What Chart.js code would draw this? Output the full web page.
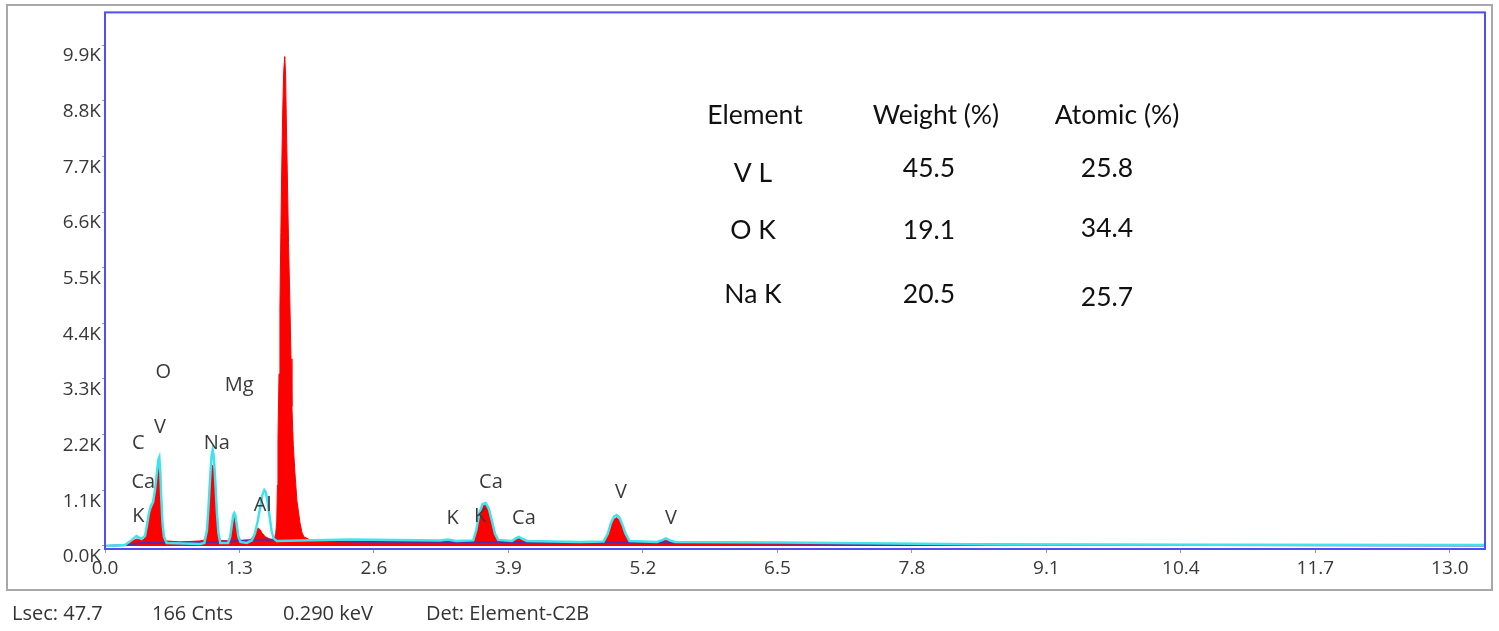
<!DOCTYPE html>
<html>
<head>
<meta charset="utf-8">
<script src="https://cdn.jsdelivr.net/npm/chart.js@4.4.1/dist/chart.umd.min.js"></script>
<style>
  html, body { margin: 0; padding: 0; background: #fff; }
  #wrap { width: 1499px; height: 631px; }
</style>
</head>
<body>
<div id="wrap"><canvas id="eds" width="1499" height="631"></canvas></div>
<script>
// axis ticks
const xTicks = [0, 1.3, 2.6, 3.9, 5.2, 6.5, 7.8, 9.1, 10.4, 11.7, 13.0];
const yTicks = [0, 1100, 2200, 3300, 4400, 5500, 6600, 7700, 8800, 9900];

// measured spectrum (red fill), energy in keV / counts
const redKeV = [0, 0.193, 0.261, 0.309, 0.367, 0.387, 0.406, 0.425, 0.445, 0.464, 0.483, 0.499, 0.515, 0.525,
  0.535, 0.545, 0.556, 0.570, 0.590, 0.725, 0.918, 0.960, 0.985, 1.000, 1.015, 1.030, 1.041, 1.052, 1.067, 1.082,
  1.097, 1.115, 1.190, 1.210, 1.225, 1.240, 1.250, 1.260, 1.275, 1.290, 1.310, 1.400, 1.430, 1.455, 1.482, 1.500,
  1.520, 1.550, 1.580, 1.610, 1.633, 1.650, 1.660, 1.667, 1.672, 1.682, 1.691, 1.700, 1.708, 1.718, 1.728, 1.738,
  1.746, 1.752, 1.762, 1.774, 1.788, 1.798, 1.807, 1.820, 1.836, 1.855, 1.885, 1.905, 1.923, 1.981, 2.368, 2.851,
  3.238, 3.315, 3.393, 3.560, 3.590, 3.620, 3.650, 3.680, 3.710, 3.740, 3.770, 3.800, 3.934, 3.970, 4.001, 4.035,
  4.078, 4.591, 4.820, 4.860, 4.890, 4.920, 4.946, 4.970, 5.000, 5.030, 5.070, 5.335, 5.390, 5.422, 5.460, 5.509,
  6.524, 8.651, 13.34];
const redCounts = [0, 20, 99, 138, 118, 158, 330, 600, 720, 790, 1000, 1350, 1636, 1560,
  1200, 800, 450, 200, 100, 79, 99, 120, 300, 650, 1100, 1500, 1600, 1480, 1050, 560,
  250, 110, 100, 200, 380, 540, 575, 540, 380, 200, 110, 118, 180, 290, 355, 320,
  250, 180, 150, 120, 110, 250, 456, 1200, 2100, 3400, 4737, 6200, 7393, 8600, 9400, 9672,
  9300, 8500, 7393, 6000, 4737, 3700, 2755, 2000, 1447, 900, 456, 260, 180, 120, 89, 89,
  79, 99, 79, 100, 300, 620, 790, 810, 700, 480, 220, 110, 79, 130, 158, 120,
  79, 59, 79, 200, 400, 530, 560, 520, 390, 220, 90, 59, 95, 118, 90, 59,
  49, 20, 10];

// overlay spectrum (cyan line)
const cyanKeV = [0, 0.193, 0.261, 0.305, 0.350, 0.387, 0.406, 0.425, 0.445, 0.464, 0.483, 0.499, 0.515, 0.525,
  0.535, 0.545, 0.556, 0.570, 0.596, 0.918, 0.960, 0.985, 1.000, 1.015, 1.030, 1.041, 1.052, 1.067, 1.082, 1.097,
  1.115, 1.190, 1.210, 1.225, 1.240, 1.250, 1.260, 1.275, 1.290, 1.310, 1.370, 1.420, 1.450, 1.475, 1.500, 1.520,
  1.540, 1.555, 1.570, 1.590, 1.610, 1.630, 1.660, 2.368, 3.238, 3.315, 3.393, 3.560, 3.590, 3.620, 3.650, 3.680,
  3.710, 3.740, 3.770, 3.800, 3.934, 3.970, 4.001, 4.035, 4.078, 4.591, 4.820, 4.860, 4.890, 4.920, 4.946, 4.970,
  5.000, 5.030, 5.070, 5.335, 5.390, 5.422, 5.460, 5.509, 6.524, 8.651, 13.34];
const cyanCounts = [0, 20, 120, 198, 140, 200, 420, 650, 800, 860, 1100, 1400, 1700, 1754,
  1450, 900, 450, 180, 59, 39, 60, 300, 750, 1300, 1780, 1900, 1760, 1250, 650, 250,
  60, 60, 180, 400, 610, 650, 610, 400, 180, 80, 59, 110, 250, 480, 760, 1000,
  1104, 1060, 900, 600, 300, 150, 100, 128, 108, 128, 99, 110, 320, 660, 830, 848,
  740, 500, 240, 120, 99, 150, 177, 140, 99, 79, 89, 240, 450, 580, 611, 570,
  430, 250, 100, 79, 120, 148, 110, 79, 69, 30, 20];

// background (purple line)
const bgKeV = [0, 0.2, 0.35, 1.0, 1.3, 1.55, 1.9, 2.5, 3.5, 4.5, 5.5, 7.0, 9.0, 13.34];
const bgCounts = [0, 20, 59, 75, 99, 130, 110, 85, 80, 75, 65, 45, 25, 10];

// peak identification labels: text, keV, counts
const peakText = ["O", "Mg", "V", "C", "Na", "Ca", "Al", "K", "K", "K", "Ca", "Ca", "V", "V"];
const peakKeV = [0.563, 1.298, 0.532, 0.322, 1.080, 0.370, 1.524, 0.322, 3.361, 3.625, 3.731, 4.050, 4.987, 5.470];
const peakCounts = [3435, 3173, 2340, 2024, 2024, 1267, 808, 578, 545, 578, 1267, 545, 1070, 545];

// quantification table
const tableHead = ["Element", "Weight (%)", "Atomic (%)"];
const tableElem = ["V L", "O K", "Na K"];
const tableWeight = ["45.5", "19.1", "20.5"];
const tableAtomic = ["25.8", "34.4", "25.7"];

// status line under the plot
const statusText = ["Lsec: 47.7", "166 Cnts", "0.290 keV", "Det: Element-C2B"];

const pts = (xs, ys) => xs.map((x, i) => ({ x: x, y: ys[i] }));

// frame, labels, table and status line
const decor = {
  id: "decor",
  afterDraw(chart) {
    const { ctx, chartArea: a, scales: { x, y } } = chart;
    ctx.save();

    // outer window frame
    ctx.strokeStyle = "#a8a8a8";
    ctx.lineWidth = 2;
    ctx.strokeRect(7, 5, 1485, 585);

    // blue plot border
    ctx.strokeStyle = "#4f4ff2";
    ctx.lineWidth = 2;
    ctx.strokeRect(a.left, a.top, a.right - a.left, a.bottom - a.top);

    // peak labels
    ctx.fillStyle = "#3a3a3a";
    ctx.font = "20px 'Open Sans'";
    ctx.textAlign = "center";
    ctx.textBaseline = "middle";
    peakText.forEach((t, i) => {
      ctx.fillText(t, x.getPixelForValue(peakKeV[i]), y.getPixelForValue(peakCounts[i]));
    });

    // table
    ctx.fillStyle = "#111";
    ctx.font = "26.5px Lato";
    const colX = [755, 936, 1117];
    const numX = [753, 929, 1107];
    tableHead.forEach((t, i) => ctx.fillText(t, colX[i], 115));
    const rowY = [170, 230, 294];
    tableElem.forEach((t, i) => {
      ctx.fillText(t, numX[0], rowY[i] + (i === 0 ? 3 : 0));
      ctx.fillText(tableWeight[i], numX[1], rowY[i] - (i === 0 ? 2 : 0));
      ctx.fillText(tableAtomic[i], numX[2], rowY[i] + (i === 2 ? 3 : -2));
    });

    // status line
    ctx.fillStyle = "#333";
    ctx.font = "20px 'Open Sans'";
    ctx.textAlign = "left";
    const sx = [12, 152, 283, 426];
    statusText.forEach((t, i) => ctx.fillText(t, sx[i], 614));

    ctx.restore();
  }
};

function draw() {
  new Chart(document.getElementById("eds"), {
    type: "line",
    data: {
      datasets: [
        {
          label: "overlay",
          data: pts(cyanKeV, cyanCounts),
          borderColor: "#3fe3ee",
          borderWidth: 2.5,
          fill: false,
          pointRadius: 0,
          tension: 0,
          order: 0
        },
        {
          label: "background",
          data: pts(bgKeV, bgCounts),
          borderColor: "#5a2aa6",
          borderWidth: 2,
          fill: false,
          pointRadius: 0,
          tension: 0,
          order: 1
        },
        {
          label: "spectrum",
          data: pts(redKeV, redCounts),
          borderColor: "#ff0000",
          backgroundColor: "#ff0000",
          borderWidth: 1,
          fill: "origin",
          pointRadius: 0,
          tension: 0,
          order: 2
        }
      ]
    },
    options: {
      responsive: false,
      animation: false,
      layout: { padding: { top: 11, right: 14, left: 0, bottom: 0 } },
      plugins: { legend: { display: false }, tooltip: { enabled: false } },
      scales: {
        x: {
          type: "linear",
          min: 0,
          max: 13.34,
          afterFit: s => { s.height = 82; },
          afterBuildTicks: s => { s.ticks = xTicks.map(v => ({ value: v })); },
          grid: { drawOnChartArea: false, drawTicks: true, tickLength: 4, color: "#999" },
          border: { display: false },
          ticks: {
            padding: 4,
            maxRotation: 0,
            autoSkip: false,
            color: "#383838",
            font: { family: "'Open Sans'", size: 19 },
            callback: v => Number(v).toFixed(1)
          }
        },
        y: {
          min: -60,
          max: 10545,
          afterFit: s => { s.width = 105; },
          afterBuildTicks: s => { s.ticks = yTicks.map(v => ({ value: v })); },
          grid: { drawOnChartArea: false, drawTicks: true, tickLength: 3, color: "#999" },
          border: { display: false },
          ticks: {
            padding: 1,
            labelOffset: 11,
            autoSkip: false,
            color: "#383838",
            font: { family: "'Open Sans'", size: 19 },
            callback: v => (v / 1000).toFixed(1) + "K"
          }
        }
      }
    },
    plugins: [decor]
  });
}

Promise.all([
  document.fonts.load("20px 'Open Sans'"),
  document.fonts.load("26px Lato")
]).then(draw, draw);
</script>
</body>
</html>
